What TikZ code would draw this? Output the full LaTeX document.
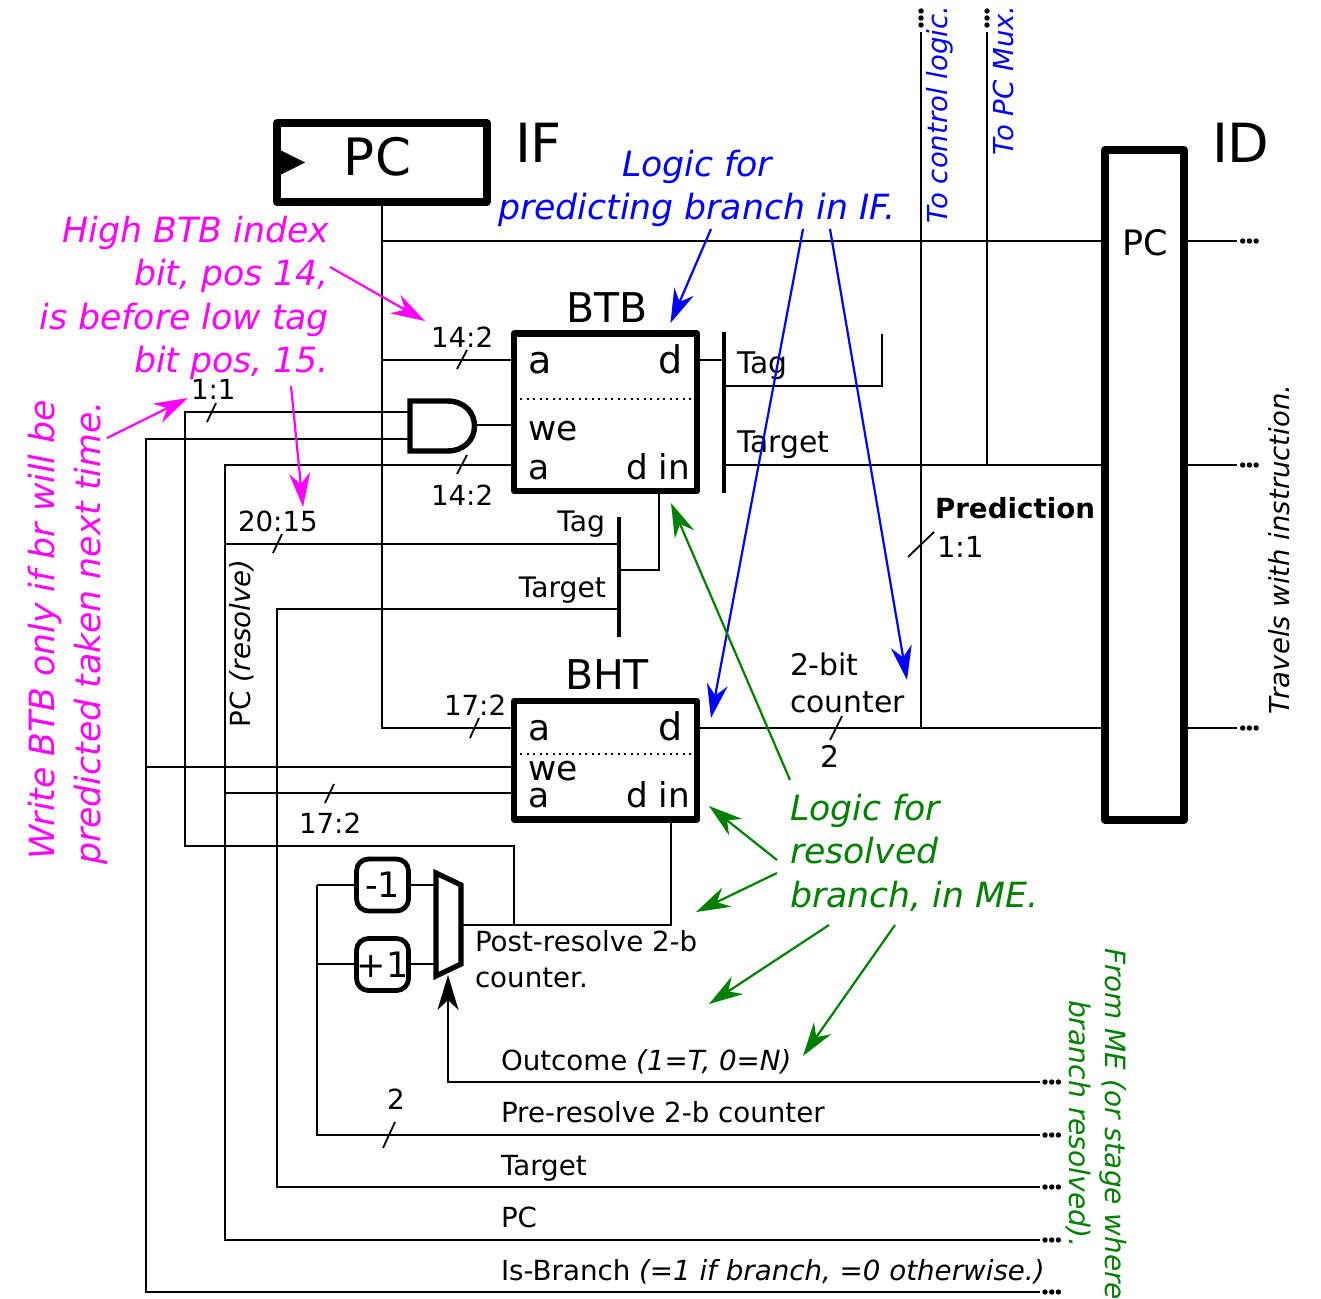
\documentclass[tikz,border=0pt]{standalone}
\usepackage{fontspec}
\setmainfont{DejaVu Sans}
\usetikzlibrary{arrows.meta}
\newcommand{\fs}[1]{\fontsize{#1}{#1}\selectfont}
\definecolor{gr}{RGB}{0,128,0}
\definecolor{blu}{RGB}{0,0,255}
\definecolor{mag}{RGB}{255,0,255}
\tikzset{
  wire/.style={line width=2pt,line join=miter},
  tick/.style={line width=1.8pt},
  box/.style={draw,fill=white,line width=6.2pt,line join=round,inner sep=0,outer sep=0},
  lbl/.style={inner sep=0,outer sep=0,anchor=base west,font=\fs{27.7}},
  lblr/.style={lbl,anchor=base east},
  port/.style={lbl,font=\fs{34.5}},
  portr/.style={lblr,font=\fs{34.2}},
  note/.style={lbl,font=\fs{34.7}\itshape},
  noter/.style={lblr,font=\fs{34.7}\itshape},
  vnote/.style={lbl,rotate=90,font=\fs{27.5}\itshape},
  big/.style={lbl,font=\fs{54}},
  ptr/.style={line width=2.2pt,-{Stealth[length=34pt,width=21pt,inset=11pt]}},
  bar/.style={line width=3.5pt},
  incdec/.style={draw,fill=white,line width=4.8pt,rounded corners=12pt,inner sep=0,outer sep=0,minimum width=52pt,minimum height=52pt,font=\fs{35}},
}
\newcommand{\dotsH}[2]{\foreach \i in {0,6.7,13.4} \fill (#1+\i,#2) circle[radius=2.7];}
\newcommand{\dotsV}[2]{\foreach \i in {0,7,14} \fill (#1,#2+\i) circle[radius=2.7];}
\begin{document}
\begin{tikzpicture}[x=1pt,y=-1pt]
\fill[white] (0,0) rectangle (1321,1298);
\useasboundingbox (0,0) rectangle (1321,1298);

% junction and end coordinates
\coordinate (j241) at (382,241);
\coordinate (j360) at (382,360);
\coordinate (j728) at (382,728);
\coordinate (idT) at (1105,241);
\coordinate (idM) at (1105,465);
\coordinate (idB) at (1105,728);
\coordinate (idTo) at (1236.5,241);
\coordinate (idMo) at (1236.5,465);
\coordinate (idBo) at (1236.5,728);
\coordinate (ctlTop) at (921,32);
\coordinate (ctlJ) at (921,241);
\coordinate (ctlB) at (921,728);
\coordinate (muxTop) at (987,32);
\coordinate (muxB) at (987,465);
\coordinate (btbD) at (514,360);
\coordinate (btbWe) at (514,425);
\coordinate (btbA) at (514,465);
\coordinate (btbDo) at (697,360);
\coordinate (bhtA) at (514,728);
\coordinate (bhtD) at (697,728);
\coordinate (bhtWe) at (514,767);
\coordinate (bhtA2) at (514,793);
\coordinate (barT) at (724,332);
\coordinate (barB) at (724,493);
\coordinate (barC) at (724,360);
\coordinate (barM) at (724,465);
\coordinate (tagE) at (724,386);
\coordinate (tagC) at (882,386);
\coordinate (tagU) at (882,334);
\coordinate (bar2T) at (619,517);
\coordinate (bar2B) at (619,637);
\coordinate (gateA) at (410,412);
\coordinate (gateB) at (410,439);
\coordinate (gateO) at (475,425);
\coordinate (eOut) at (1040,1082);
\coordinate (ePre) at (1040,1135);
\coordinate (eTgt) at (1040,1187);
\coordinate (ePC) at (1040,1240);
\coordinate (eBr) at (1040,1292);

% wires
\draw[wire] (382,202) -- (j728) -- (bhtA);
\draw[wire] (j241) -- (idT);
\draw[wire] (j360) -- (btbD);
\draw[wire] (ctlTop) -- (ctlB);
\draw[wire] (muxTop) -- (muxB);
\draw[wire] (bhtD) -- (idB);
\draw[wire] (barM) -- (idM);
\draw[wire] (btbDo) -- (barC);
\draw[wire] (tagE) -- (tagC) -- (tagU);
\draw[wire] (idT) -- (idTo);
\draw[wire] (idM) -- (idMo);
\draw[wire] (idB) -- (idBo);
\draw[wire] (gateA) -- (185,412) -- (185,846) -- (514,846) -- (514,925);
\draw[wire] (gateB) -- (146,439) -- (146,1292) -- (eBr);
\draw[wire] (146,767) -- (bhtWe);
\draw[wire] (gateO) -- (btbWe);
\draw[wire] (btbA) -- (225,465) -- (225,1240) -- (ePC);
\draw[wire] (225,544) -- (619,544);
\draw[wire] (225,793) -- (bhtA2);
\draw[wire] (619,609) -- (277,609) -- (277,1187) -- (eTgt);
\draw[wire] (659,490) -- (659,570) -- (619,570);
\draw[wire] (317,885) -- (317,1135) -- (ePre);
\draw[wire] (462,925) -- (671,925) -- (671,820);
\draw[wire,-{Stealth[length=35pt,width=21pt,inset=10pt]}] (eOut) -- (448,1082) -- (448,975);

% thick bars
\draw[bar] (barT) -- (barB);
\draw[bar] (bar2T) -- (bar2B);

% registers and memories
\node[box,line width=7.8pt,minimum width=210pt,minimum height=78.7pt] (pc) at (382,162.65) {};
\fill (280,150) -- (305,162.5) -- (280,175) -- cycle;
\node[inner sep=0,font=\fs{51.5},anchor=base] (pct) at (377.5,175.5) {PC};
\node[big] (iflbl) at (515,162) {IF};
\node[box,line width=7.8pt,minimum width=79pt,minimum height=669.7pt] (idr) at (1144.5,484.85) {};
\node[big] (idlbl) at (1212,162) {ID};
\node[lbl,font=\fs{35},anchor=base] (idpc) at (1145,255) {PC};

\node[box,minimum width=183pt,minimum height=157.5pt] (btb) at (605.5,412.25) {};
\node[box,minimum width=183pt,minimum height=118.5pt] (bht) at (605.5,760.25) {};
\draw[line width=2pt,dash pattern=on 2pt off 4.5pt] (520,399) -- (694,399);
\draw[line width=2pt,dash pattern=on 2pt off 4.5pt] (520,754) -- (694,754);
\node[lbl,font=\fs{41}] (btbl) at (566,322) {BTB};
\node[lbl,font=\fs{41}] (bhtl) at (565,689) {BHT};
\node[port,font=\fs{38}] (p1) at (528,373) {a};
\node[portr,font=\fs{38}] (p2) at (683,373) {d};
\node[port] (p3) at (528,440) {we};
\node[port] (p4) at (528,479) {a};
\node[portr] (p5) at (690,479) {d in};
\node[port,font=\fs{36}] (p6) at (528,740) {a};
\node[portr,font=\fs{38}] (p7) at (683,740) {d};
\node[port] (p8) at (528,780) {we};
\node[port] (p9) at (528,807) {a};
\node[portr] (p10) at (690,807) {d in};

% AND gate
\draw[line width=5.4pt,line join=miter,fill=white] (410,401) -- (447,401) .. controls (464,401) and (474.5,412) .. (474.5,426) .. controls (474.5,440) and (464,451) .. (447,451) -- (410,451) -- cycle;

% inc/dec and mux
\draw[wire] (317,885) -- (436,885);
\draw[wire] (317,964) -- (436,964);
\node[incdec] (dec) at (382.5,885) {-1};
\node[incdec] (inc) at (382.5,964.5) {+1};
\draw[line width=5.2pt,line join=miter,fill=white] (436,873) -- (461,885) -- (461,964) -- (436,976) -- cycle;

% ticks
\draw[tick] (467,350) -- (457,369);
\draw[tick] (467,455) -- (457,474);
\draw[tick] (216,403) -- (207,422);
\draw[tick] (282,534) -- (273,553);
\draw[tick] (479,718) -- (470,738);
\draw[tick] (334,784) -- (325,803);
\draw[tick] (395,1122) -- (383,1148);
\draw[tick] (842,716) -- (830,740);
\draw[tick] (934,532) -- (908,557);

% dots
\dotsV{921}{11}
\dotsV{987}{11}
\dotsH{1242.7}{241}
\dotsH{1242.7}{465}
\dotsH{1242.7}{728}
\dotsH{1045}{1082}
\dotsH{1045}{1135}
\dotsH{1045}{1187}
\dotsH{1045}{1240}
\dotsH{1045}{1292}

% labels
\node[lbl] (l1) at (431,347) {14:2};
\node[lbl] (l2) at (431,505) {14:2};
\node[lbl] (l3) at (191,399) {1:1};
\node[lbl] (l4) at (238,531) {20:15};
\node[lbl] (l5) at (444,715) {17:2};
\node[lbl] (l6) at (299,833) {17:2};
\node[lbl] (l7) at (387,1109) {2};
\node[lbl,font=\fs{29.8}] (l8) at (737,373) {Tag};
\node[lbl,font=\fs{29.8}] (l9) at (737,452) {Target};
\node[lblr,font=\fs{28.2}] (l10) at (605,531) {Tag};
\node[lblr,font=\fs{28.2}] (l11) at (606,597) {Target};
\node[lbl,font=\fs{29.8}] (l12) at (790,675) {2-bit};
\node[lbl,font=\fs{29.8}] (l13) at (790,712) {counter};
\node[lbl,font=\fs{29.8}] (l14) at (820,767) {2};
\node[lbl,font=\fs{27.7}\bfseries] (l15) at (935,518) {Prediction};
\node[lbl,font=\fs{29}] (l16) at (937,557) {1:1};
\node[lbl] (l17) at (475,951) {Post-resolve 2-b};
\node[lbl] (l18) at (475,987) {counter.};
\node[lbl] (l19) at (501,1070) {Outcome \textit{(1=T, 0=N)}};
\node[lbl] (l20) at (501,1122) {Pre-resolve 2-b counter};
\node[lbl] (l21) at (501,1175) {Target};
\node[lbl] (l22) at (501,1227) {PC};
\node[lbl] (l23) at (501,1280) {Is-Branch \textit{(=1 if branch, =0 otherwise.)}};
\node[lbl,rotate=90] (l24) at (250,727) {PC \textit{(resolve)}};
\node[vnote] (l25) at (1289,714) {Travels with instruction.};

% blue notes
\node[note,text=blu] (b1) at (622,176) {Logic for};
\node[note,text=blu] (b2) at (498,219) {predicting branch in IF.};
\node[vnote,text=blu] (b3) at (947,223) {To control logic.};
\node[vnote,text=blu] (b4) at (1013,155) {To PC Mux.};
\coordinate (b2a) at (711,229);
\coordinate (b2b) at (803,229);
\coordinate (b2c) at (830,229);
\coordinate (tb1) at (670.5,323);
\coordinate (tb2) at (711,718);
\coordinate (tb3) at (907,680);
\draw[ptr,blu] (b2a) -- (tb1);
\draw[ptr,blu] (b2b) -- (tb2);
\draw[ptr,blu] (b2c) -- (tb3);

% magenta notes
\node[noter,text=mag] (m1) at (329,242) {High BTB index};
\node[noter,text=mag] (m2) at (329,285) {bit, pos 14,};
\node[noter,text=mag] (m3) at (329,329) {is before low tag};
\node[noter,text=mag] (m4) at (329,372) {bit pos, 15.};
\node[note,text=mag,rotate=90,anchor=base] (m5) at (54.5,630) {Write BTB only if br will be};
\node[note,text=mag,rotate=90,anchor=base] (m6) at (100,633) {predicted taken next time.};
\coordinate (ma1) at (330,267);
\coordinate (ma2) at (425,321);
\coordinate (ma3) at (107,438);
\coordinate (ma4) at (188,398);
\coordinate (ma5) at (291,386);
\coordinate (ma6) at (303,507);
\draw[ptr,mag] (ma1) -- (ma2);
\draw[ptr,mag] (ma3) -- (ma4);
\draw[ptr,mag] (ma5) -- (ma6);

% green notes
\node[note,text=gr] (g1) at (790,820) {Logic for};
\node[note,text=gr] (g2) at (790,863) {resolved};
\node[note,text=gr] (g3) at (790,907) {branch, in ME.};
\node[lbl,text=gr,rotate=-90,font=\fs{27.9}\itshape] (g4) at (1105,948) {From ME (or stage where};
\node[lbl,text=gr,rotate=-90,font=\fs{28.2}\itshape] (g5) at (1069,1000) {branch resolved).};
\coordinate (ga1) at (790,780);
\coordinate (ga2) at (671,503);
\coordinate (ga3) at (777,860);
\coordinate (ga4) at (709,806);
\coordinate (ga5) at (777,873);
\coordinate (ga6) at (696,912);
\coordinate (ga7) at (829,925);
\coordinate (ga8) at (709,1004);
\coordinate (ga9) at (895,925);
\coordinate (ga10) at (803,1056);
\draw[ptr,gr] (ga1) -- (ga2);
\draw[ptr,gr] (ga3) -- (ga4);
\draw[ptr,gr] (ga5) -- (ga6);
\draw[ptr,gr] (ga7) -- (ga8);
\draw[ptr,gr] (ga9) -- (ga10);
\end{tikzpicture}
\end{document}
